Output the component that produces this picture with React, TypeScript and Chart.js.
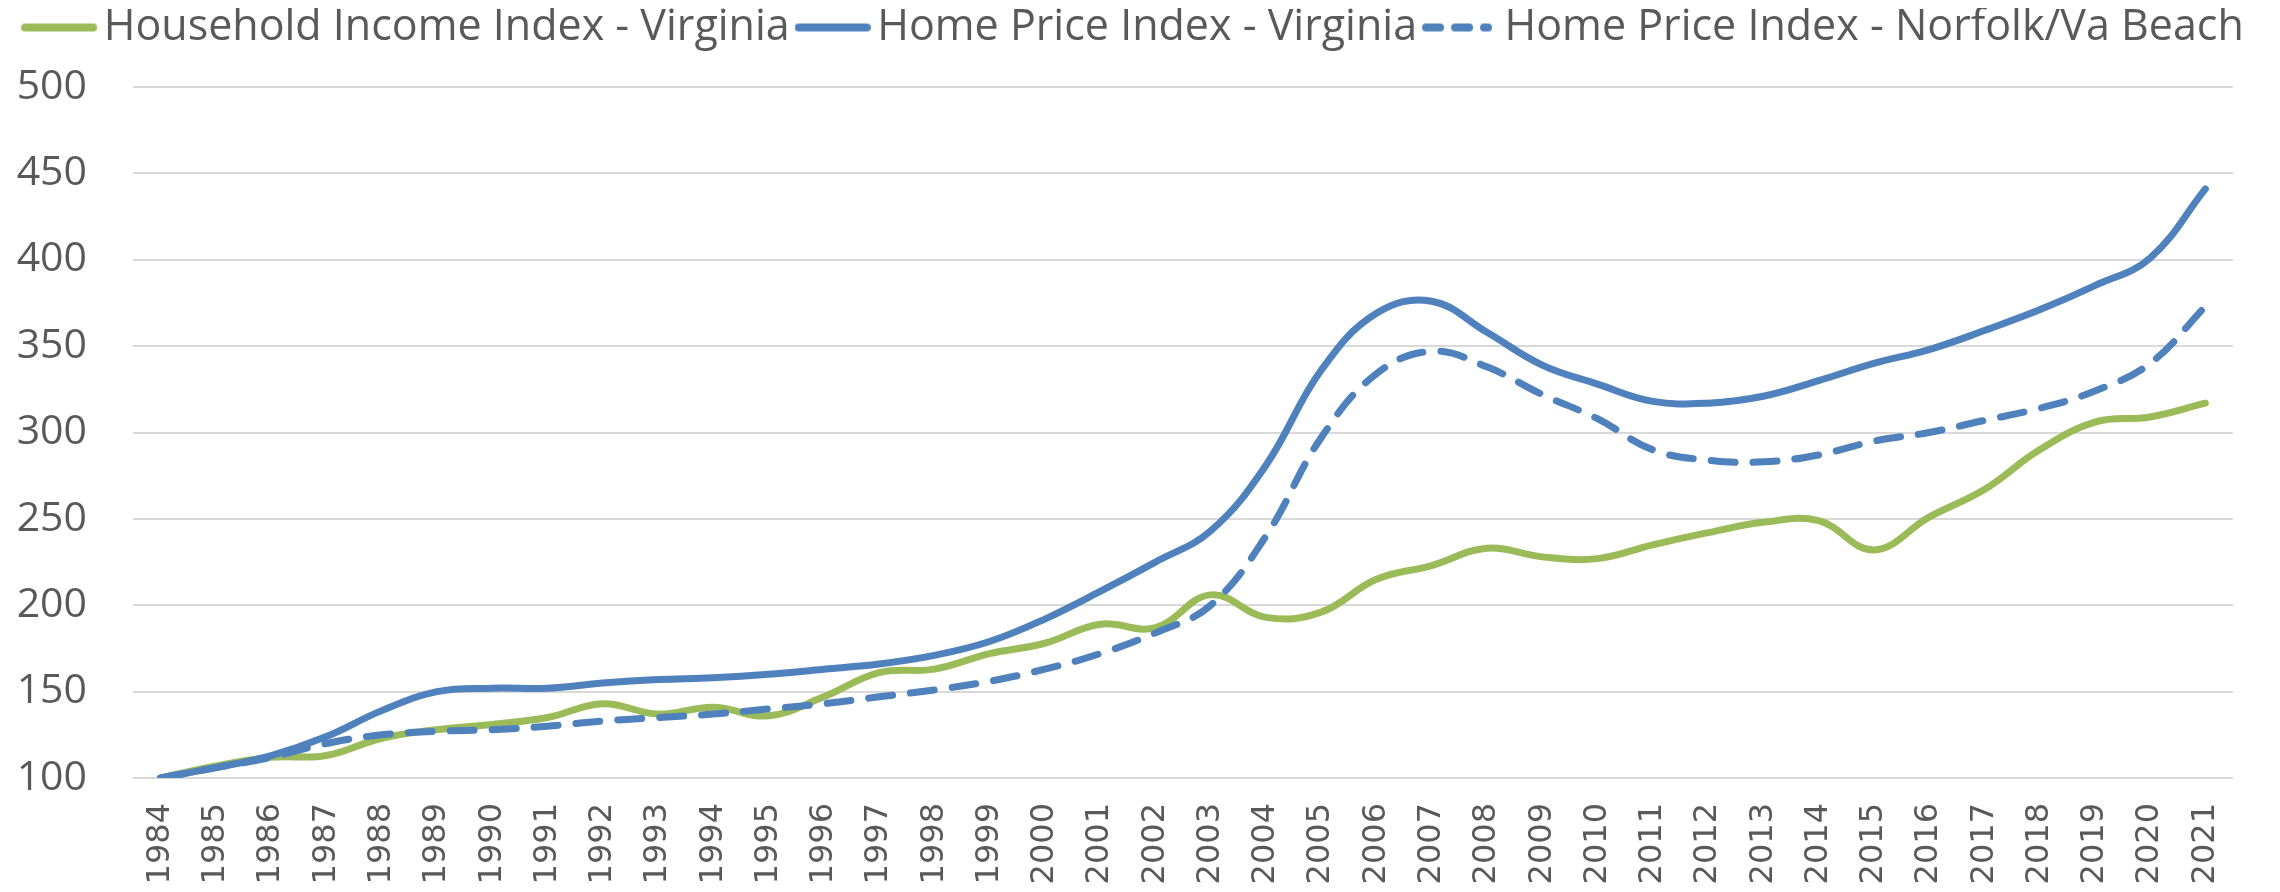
import React, { useEffect, useRef } from "react";
import { Chart, registerables } from "chart.js";

Chart.register(...registerables);

const years = [
  "1984", "1985", "1986", "1987", "1988", "1989", "1990", "1991", "1992", "1993",
  "1994", "1995", "1996", "1997", "1998", "1999", "2000", "2001", "2002", "2003",
  "2004", "2005", "2006", "2007", "2008", "2009", "2010", "2011", "2012", "2013",
  "2014", "2015", "2016", "2017", "2018", "2019", "2020", "2021",
];

const householdIncomeVA = [
  100, 107, 112, 113, 123, 128, 131, 135, 143, 137,
  141, 136, 147, 161, 163, 172, 178, 189, 187, 206,
  193, 196, 215, 223, 233, 228, 227, 235, 242, 248,
  249, 232, 251, 267, 290, 306, 309, 317,
];

const homePriceVA = [
  100, 106, 113, 124, 139, 150, 152, 152, 155, 157,
  158, 160, 163, 166, 171, 179, 192, 208, 225, 243,
  281, 336, 369, 376, 358, 339, 328, 318, 317, 321,
  330, 340, 348, 359, 371, 385, 401, 441,
];

const homePriceNorfolk = [
  100, 106, 112, 120, 125, 127, 128, 130, 133, 135,
  137, 140, 143, 147, 151, 156, 163, 172, 184, 200,
  240, 297, 334, 347, 338, 322, 308, 290, 284, 283,
  287, 295, 300, 307, 314, 324, 340, 373,
];

const seriesLabels = [
  "Household Income Index - Virginia",
  "Home Price Index - Virginia",
  "Home Price Index - Norfolk/Va Beach",
];

const yTicks = [100, 150, 200, 250, 300, 350, 400, 450, 500];

const GREEN = "#9BBB59";
const BLUE = "#4F81BD";
const TEXT = "#595959";

function legendLine(color: string, dash: number[], end: number) {
  const c = document.createElement("canvas");
  c.width = 76;
  c.height = 12;
  const ctx = c.getContext("2d")!;
  ctx.strokeStyle = color;
  ctx.lineWidth = 8;
  ctx.lineCap = "round";
  ctx.setLineDash(dash);
  ctx.beginPath();
  ctx.moveTo(4, 6);
  ctx.lineTo(end, 6);
  ctx.stroke();
  return c;
}

export default function App() {
  const ref = useRef<HTMLCanvasElement | null>(null);

  useEffect(() => {
    if (!ref.current) return;
    const images = [
      legendLine(GREEN, [], 72),
      legendLine(BLUE, [], 72),
      legendLine(BLUE, [14, 15], 66),
    ];

    const legendSpacer = {
      id: "legendSpacer",
      afterInit(chart: any) {
        const legend = chart.legend;
        if (!legend) return;
        const fit = legend.fit;
        legend.fit = function () {
          fit.call(this);
          this.height += 28;
        };
      },
    };

    const lineStyle = {
      borderWidth: 7,
      pointRadius: 0,
      tension: 0.4,
      borderCapStyle: "round" as const,
      borderJoinStyle: "round" as const,
    };

    const chart = new Chart(ref.current, {
      type: "line",
      data: {
        labels: years,
        datasets: [
          {
            label: seriesLabels[0],
            data: householdIncomeVA,
            borderColor: GREEN,
            backgroundColor: GREEN,
            ...lineStyle,
            order: 3,
          },
          {
            label: seriesLabels[1],
            data: homePriceVA,
            borderColor: BLUE,
            backgroundColor: BLUE,
            ...lineStyle,
            order: 2,
          },
          {
            label: seriesLabels[2],
            data: homePriceNorfolk,
            borderColor: BLUE,
            backgroundColor: BLUE,
            ...lineStyle,
            borderDash: [24, 18],
            order: 1,
          },
        ],
      },
      options: {
        animation: false,
        responsive: false,
        devicePixelRatio: 1,
        layout: { padding: { top: -22, left: 0, right: 0, bottom: 0 } },
        plugins: {
          tooltip: { enabled: false },
          legend: {
            display: true,
            position: "top",
            align: "center",
            labels: {
              usePointStyle: true,
              pointStyleWidth: 46,
              padding: 20,
              color: TEXT,
              font: { family: "'Open Sans'", size: 43 },
              generateLabels: (c: any) =>
                c.data.datasets.map((ds: any, i: number) => ({
                  text: ds.label,
                  fillStyle: ds.borderColor,
                  strokeStyle: ds.borderColor,
                  lineWidth: 0,
                  pointStyle: images[i],
                  hidden: false,
                  datasetIndex: i,
                  fontColor: TEXT,
                })),
            },
          },
        },
        scales: {
          x: {
            type: "category",
            offset: true,
            grid: { display: false, drawTicks: false },
            border: { display: false },
            afterFit: (axis: any) => {
              axis.height = 106;
              axis.paddingLeft = 0;
              axis.paddingRight = 39;
            },
            ticks: {
              autoSkip: false,
              minRotation: 90,
              maxRotation: 90,
              padding: 25,
              color: TEXT,
              font: { family: "'DejaVu Sans'", size: 32 },
            },
          },
          y: {
            min: 100,
            max: 500,
            afterBuildTicks: (axis: any) => {
              axis.ticks = yTicks.map((v) => ({ value: v }));
            },
            afterFit: (axis: any) => {
              axis.width = 125;
              axis.paddingTop = 0;
              axis.paddingBottom = 0;
            },
            grid: { color: "#d9d9d9", lineWidth: 2, drawTicks: false },
            border: { display: false },
            ticks: {
              padding: 46,
              color: TEXT,
              font: { family: "'Open Sans'", size: 41 },
            },
          },
        },
      },
      plugins: [legendSpacer],
    });

    return () => chart.destroy();
  }, []);

  return (
    <div style={{ width: 2264, height: 876 }}>
      <canvas ref={ref} width={2264} height={876} style={{ display: "block" }} />
    </div>
  );
}
